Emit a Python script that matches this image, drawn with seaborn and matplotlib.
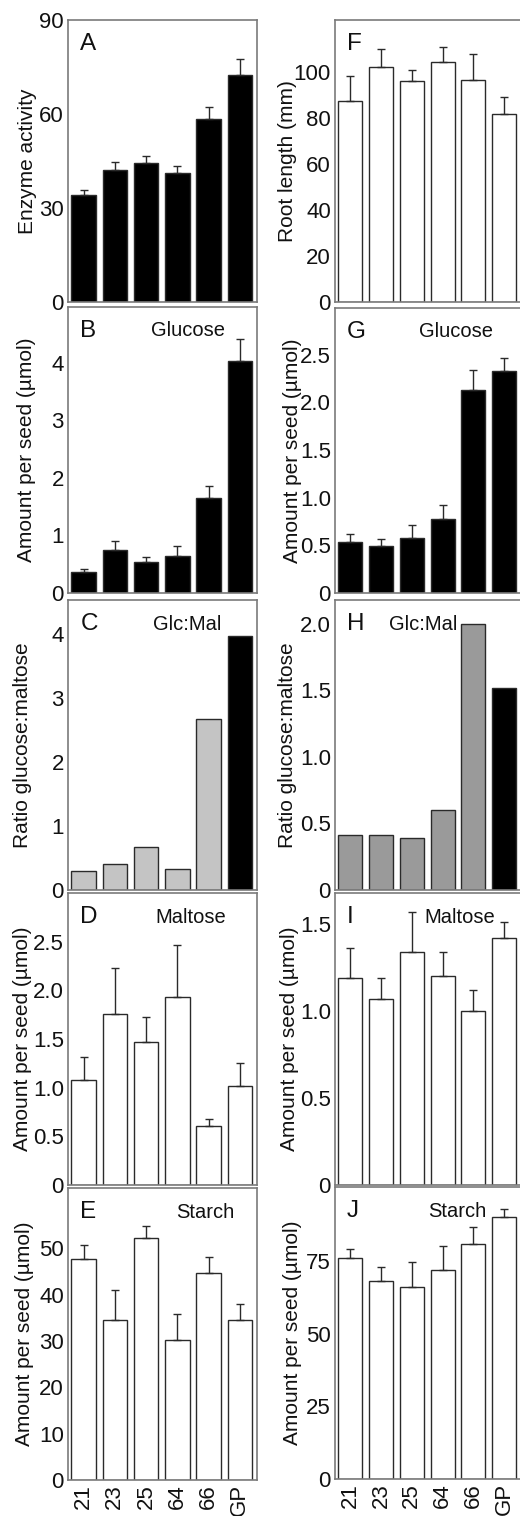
import numpy as np
import pandas as pd
import matplotlib
matplotlib.use("Agg")
import matplotlib.pyplot as plt
import seaborn as sns

# ── DATA ──────────────────────────────────────────────────
lines = ["21", "23", "25", "64", "66", "GP"]

enzyme = [34.1, 42.0, 44.5, 41.1, 58.5, 72.5]
enzyme_err = [1.6, 2.7, 2.1, 2.2, 3.8, 5.0]

root = [87.4, 101.9, 96.2, 104.2, 96.5, 81.6]
root_err = [10.9, 8.0, 4.7, 6.7, 11.3, 7.5]

glc_left = [0.36, 0.74, 0.54, 0.64, 1.65, 4.03]
glc_left_err = [0.06, 0.17, 0.09, 0.17, 0.21, 0.39]
glc_right = [0.54, 0.49, 0.58, 0.78, 2.13, 2.33]
glc_right_err = [0.08, 0.08, 0.13, 0.14, 0.21, 0.14]

ratio_left = [0.30, 0.40, 0.67, 0.33, 2.67, 3.97]
ratio_right = [0.41, 0.415, 0.39, 0.60, 2.00, 1.52]

mal_left = [1.08, 1.76, 1.47, 1.93, 0.61, 1.02]
mal_left_err = [0.23, 0.47, 0.26, 0.54, 0.07, 0.23]
mal_right = [1.19, 1.07, 1.34, 1.20, 1.00, 1.42]
mal_right_err = [0.17, 0.12, 0.23, 0.14, 0.12, 0.09]

starch_left = [47.6, 34.6, 52.2, 30.3, 44.6, 34.6]
starch_left_err = [3.2, 6.5, 2.6, 5.5, 3.6, 3.4]
starch_right = [76.0, 68.2, 66.0, 71.9, 80.8, 90.1]
starch_right_err = [3.2, 4.8, 8.6, 8.5, 6.0, 2.9]

# ── STYLE ─────────────────────────────────────────────────
sns.set_theme(style="white")
plt.rcParams["font.family"] = ["Liberation Sans", "DejaVu Sans"]

W, H = 520, 1516
fig = plt.figure(figsize=(W / 100, H / 100), dpi=100)

def px(l, t, w, h):
    return [l / W, 1 - (t + h) / H, w / W, h / H]

EDGE = "#2a2a2a"

def panel(rect, vals, err, colors, ylim, ticks, ticklabels, ylabel, lab_x,
          letter, note=None, note_x=0.45, bottom=False):
    ax = fig.add_axes(px(*rect))
    df = pd.DataFrame({"line": lines, "val": vals})
    sns.barplot(data=df, x="line", y="val", hue="line", palette=colors,
                legend=False, width=0.78, edgecolor=EDGE, linewidth=1.0, ax=ax)
    if err is not None:
        ax.errorbar(np.arange(6), vals, yerr=[np.zeros(6), err], fmt="none",
                    ecolor=EDGE, elinewidth=1.0, capsize=3, capthick=1.0, zorder=1)
    ax.set_xlim(-0.5, 5.55)
    ax.set_ylim(*ylim)
    ax.set_yticks(ticks)
    ax.set_yticklabels(ticklabels)
    ax.tick_params(axis="both", length=0, labelsize=16, pad=3, colors="#111")
    ax.set_xlabel("")
    ax.set_ylabel(ylabel, fontsize=15, color="#111", va="center")
    ax.yaxis.set_label_coords(lab_x, 0.5)
    if bottom:
        ax.set_xticks(range(6))
        ax.set_xticklabels(lines, rotation=90, fontsize=16)
    else:
        ax.set_xticklabels([])
    for s in ax.spines.values():
        s.set_color("#7a7a7a")
        s.set_linewidth(1.2)
    ax.text(0.065, 0.955, letter, transform=ax.transAxes, fontsize=17.5,
            ha="left", va="top", color="#111")
    if note:
        ax.text(note_x, 0.95, note, transform=ax.transAxes, fontsize=14.5,
                ha="left", va="top", color="#111")
    return ax

black = ["black"] * 6
white = ["white"] * 6
lgrey = ["#c4c4c4"] * 5 + ["black"]
dgrey = ["#9a9a9a"] * 5 + ["black"]

LX, LW = 68, 189
RX, RW = 335, 186
amount = "Amount per seed (\u00b5mol)"

# left column
panel((LX, 20, LW, 282), enzyme, enzyme_err, black, (0, 90), [0, 30, 60, 90],
      ["0", "30", "60", "90"], "Enzyme activity", -0.212, "A")
panel((LX, 307, LW, 286), glc_left, glc_left_err, black, (0, 4.97), [0, 1, 2, 3, 4],
      ["0", "1", "2", "3", "4"], amount, -0.217, "B", "Glucose", 0.44)
panel((LX, 600, LW, 290), ratio_left, None, lgrey, (0, 4.53), [0, 1, 2, 3, 4],
      ["0", "1", "2", "3", "4"], "Ratio glucose:maltose", -0.243, "C", "Glc:Mal", 0.45)
panel((LX, 893, LW, 292), mal_left, mal_left_err, white, (0, 3.0),
      [0, 0.5, 1.0, 1.5, 2.0, 2.5], ["0", "0.5", "1.0", "1.5", "2.0", "2.5"],
      amount, -0.243, "D", "Maltose", 0.46)
panel((LX, 1188, LW, 292), starch_left, starch_left_err, white, (0, 63),
      [0, 10, 20, 30, 40, 50], ["0", "10", "20", "30", "40", "50"],
      amount, -0.228, "E", "Starch", 0.57, bottom=True)

# right column
panel((RX, 20, RW, 282), root, root_err, white, (0, 122.5), [0, 20, 40, 60, 80, 100],
      ["0", "20", "40", "60", "80", "100"], "Root length (mm)", -0.253, "F")
panel((RX, 308, RW, 285), glc_right, glc_right_err, black, (0, 2.99),
      [0, 0.5, 1.0, 1.5, 2.0, 2.5], ["0", "0.5", "1.0", "1.5", "2.0", "2.5"],
      amount, -0.231, "G", "Glucose", 0.45)
panel((RX, 600, RW, 290), ratio_right, None, dgrey, (0, 2.18),
      [0, 0.5, 1.0, 1.5, 2.0], ["0", "0.5", "1.0", "1.5", "2.0"],
      "Ratio glucose:maltose", -0.253, "H", "Glc:Mal", 0.29)
panel((RX, 893, RW, 292), mal_right, mal_right_err, white, (0, 1.677),
      [0, 0.5, 1.0, 1.5], ["0", "0.5", "1.0", "1.5"],
      amount, -0.242, "I", "Maltose", 0.48)
panel((RX, 1187, RW, 292), starch_right, starch_right_err, white, (0, 100.6),
      [0, 25, 50, 75], ["0", "25", "50", "75"],
      amount, -0.231, "J", "Starch", 0.50, bottom=True)

fig.savefig("out.png", dpi=100)
